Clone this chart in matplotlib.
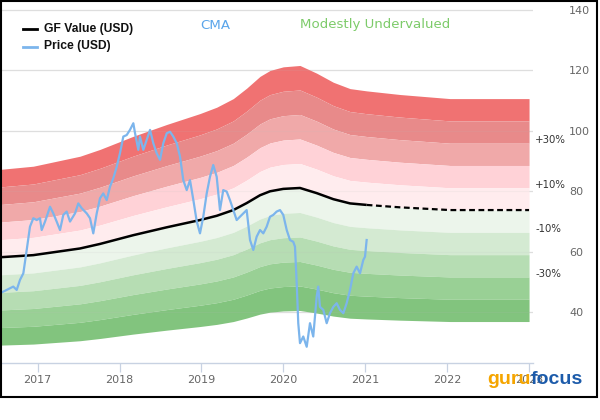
import matplotlib
matplotlib.use("Agg")
import matplotlib.pyplot as plt
from matplotlib.lines import Line2D
from matplotlib.patches import Rectangle
from matplotlib.transforms import blended_transform_factory
import numpy as np

# ---------------- data ----------------
gf_years = [2016.540, 2016.947, 2017.517, 2017.761, 2018.168, 2018.576, 2018.982,
            2019.186, 2019.389, 2019.552, 2019.715, 2019.837, 2019.999, 2020.203,
            2020.407, 2020.610, 2020.814, 2021.017, 2021.424, 2022.034, 2023.000]
gf_values = [58.1, 58.8, 61.0, 62.5, 65.4, 68.0, 70.4,
             71.8, 73.7, 76.0, 78.6, 79.9, 80.7, 81.0,
             79.3, 77.3, 75.9, 75.4, 74.6, 73.7, 73.7]
gf_projection_start = 2021.017

price_years = [2016.540, 2016.622, 2016.702, 2016.744, 2016.784, 2016.825, 2016.866, 2016.906,
               2016.947, 2016.988, 2017.028, 2017.049, 2017.090, 2017.151, 2017.191, 2017.232,
               2017.273, 2017.313, 2017.354, 2017.395, 2017.456, 2017.496, 2017.538, 2017.599,
               2017.639, 2017.679, 2017.721, 2017.761, 2017.801, 2017.843, 2017.883, 2017.923,
               2017.965, 2018.005, 2018.046, 2018.087, 2018.127, 2018.168, 2018.189, 2018.229,
               2018.249, 2018.290, 2018.331, 2018.372, 2018.412, 2018.453, 2018.494, 2018.534,
               2018.576, 2018.616, 2018.656, 2018.698, 2018.738, 2018.778, 2018.820, 2018.860,
               2018.901, 2018.942, 2018.982, 2019.022, 2019.064, 2019.104, 2019.144, 2019.186,
               2019.226, 2019.266, 2019.308, 2019.348, 2019.389, 2019.430, 2019.470, 2019.511,
               2019.552, 2019.593, 2019.633, 2019.674, 2019.715, 2019.755, 2019.796, 2019.837,
               2019.877, 2019.918, 2019.959, 2019.999, 2020.041, 2020.081, 2020.121, 2020.142,
               2020.163, 2020.182, 2020.203, 2020.243, 2020.285, 2020.325, 2020.365, 2020.407,
               2020.426, 2020.447, 2020.488, 2020.529, 2020.569, 2020.610, 2020.651, 2020.691,
               2020.732, 2020.773, 2020.814, 2020.854, 2020.895, 2020.936, 2020.976, 2020.997,
               2021.017]
price_values = [46.2, 47.3, 48.4, 47.3, 50.6, 52.8, 60.5, 68.2,
                71.0, 70.4, 71.0, 67.1, 69.9, 74.8, 72.6, 69.9,
                67.1, 72.1, 73.2, 69.9, 72.6, 75.9, 74.3, 72.6,
                71.0, 66.0, 72.6, 77.6, 79.2, 77.0, 81.4, 84.2,
                88.0, 92.5, 98.0, 98.5, 100.2, 102.4, 99.1, 93.6,
                98.0, 93.6, 96.9, 100.2, 95.8, 92.5, 90.3, 95.8,
                99.1, 99.6, 98.0, 95.8, 91.4, 83.6, 80.3, 83.6,
                77.0, 70.0, 66.0, 71.5, 79.2, 84.7, 88.6, 84.7,
                73.7, 80.3, 79.8, 77.0, 73.7, 70.4, 71.5, 72.6,
                73.7, 63.8, 60.5, 64.9, 67.1, 66.0, 68.2, 71.5,
                72.1, 73.2, 73.7, 72.1, 67.1, 63.8, 63.2, 61.6,
                49.5, 36.3, 29.7, 31.9, 28.5, 36.3, 31.9, 45.1,
                48.4, 41.7, 40.7, 36.3, 39.6, 41.7, 42.9, 40.7,
                39.6, 42.9, 47.3, 52.8, 55.0, 52.8, 57.2, 58.3,
                63.8]

band_steps = [0.5, 0.4, 0.3, 0.2, 0.1, 0.0, -0.1, -0.2, -0.3, -0.4, -0.5]
band_colors = ["#F07272", "#E88A8A", "#F0A9A9", "#FFD2D7", "#FFECEE",
               "#ECF5EB", "#D4EAD2", "#B6DDB3", "#99D095", "#82C47E"]
pct_labels = ["+30%", "+10%", "-10%", "-30%"]
pct_levels = [0.3, 0.1, -0.1, -0.3]

x_ticks = [2017, 2018, 2019, 2020, 2021, 2022, 2023]
y_ticks = [40, 60, 80, 100, 120, 140]

ticker_name = "CMA"
valuation_text = "Modestly Undervalued"

# ---------------- figure ----------------
fig = plt.figure(figsize=(6, 4.2), dpi=100)
ax = fig.add_axes([0.0, 0.1357, 0.8883, 0.8619])
ax.set_xlim(2016.54, 2023.048)
ax.set_ylim(23.14, 142.81)

gy = np.array(gf_years)
gv = np.array(gf_values)

for i, col in enumerate(band_colors):
    hi = band_steps[i]
    lo = band_steps[i + 1]
    ax.fill_between(gy, gv * (1 + lo), gv * (1 + hi), color=col, lw=0, zorder=1)

# grid
for v in y_ticks:
    ax.axhline(v, color="#E3E3E3", lw=0.9, zorder=0.5)
    ax.axhline(v, color="#BBBBBB", lw=0.8, alpha=0.12, zorder=2)

# GF value line
solid = gy <= gf_projection_start + 1e-9
dashed = gy >= gf_projection_start - 1e-9
ax.plot(gy[solid], gv[solid], color="black", lw=1.8, zorder=4, solid_capstyle="butt")
ax.plot(gy[dashed], gv[dashed], color="black", lw=1.6, zorder=4, linestyle=(0, (2.6, 1.6)))

# price line
ax.plot(price_years, price_values, color="#7CB5EC", lw=1.6, zorder=5)

# axes styling
for s in ["top", "left", "right"]:
    ax.spines[s].set_visible(False)
ax.spines["bottom"].set_color("#C8D2E2")
ax.spines["bottom"].set_linewidth(1.0)
ax.set_xticks(x_ticks)
ax.set_xticklabels([str(t) for t in x_ticks])
ax.tick_params(axis="x", direction="out", length=6.5, width=0.9, color="#C8D2E2",
               labelcolor="#666666", labelsize=8, pad=2)
ax.yaxis.tick_right()
ax.set_yticks(y_ticks)
ax.set_yticklabels([str(t) for t in y_ticks])
ax.tick_params(axis="y", length=0, labelcolor="#666666", labelsize=8, pad=26)
ax.set_facecolor("white")

# percentage labels
tr = blended_transform_factory(ax.transAxes, ax.transData)
gf_last = gf_values[-1]
for lab, p in zip(pct_labels, pct_levels):
    ax.text(1.004, gf_last * (1 + p) + 1.0, lab, transform=tr, ha="left", va="center",
            fontsize=7.3, color="#333333", clip_on=False)

# legend (manual)
ax.add_line(Line2D([23 / 533, 37 / 533], [(363 - 29) / 362] * 2, transform=ax.transAxes,
                   color="black", lw=2.0, zorder=6))
ax.add_line(Line2D([23 / 533, 37 / 533], [(363 - 47) / 362] * 2, transform=ax.transAxes,
                   color="#7CB5EC", lw=2.0, zorder=6))
ax.text(44 / 533, (363 - 29) / 362, "GF Value (USD)", transform=ax.transAxes, ha="left",
        va="center", fontsize=8.7, fontweight="bold", color="#111111",
        family="Liberation Sans", zorder=6)
ax.text(44 / 533, (363 - 46) / 362, "Price (USD)", transform=ax.transAxes, ha="left",
        va="center", fontsize=8.7, fontweight="bold", color="#111111",
        family="Liberation Sans", zorder=6)

# title texts
ax.text(200 / 533, (363 - 25) / 362, ticker_name, transform=ax.transAxes, ha="left",
        va="center", fontsize=9.6, color="#5AA5EA", zorder=6)
ax.text(300 / 533, (363 - 24) / 362, valuation_text, transform=ax.transAxes, ha="left",
        va="center", fontsize=9.6, color="#7DCB6A", zorder=6)

# logo
t1 = fig.text(487 / 600, 36.5 / 420, "guru", ha="left", va="baseline", fontsize=14,
              fontweight="bold", color="#F5A500", family="Liberation Sans", zorder=10)
fig.canvas.draw()
bb = t1.get_window_extent(renderer=fig.canvas.get_renderer())
fig.text(bb.x1 / fig.bbox.width, 36.5 / 420, "focus", ha="left", va="baseline", fontsize=14,
         fontweight="bold", color="#1C5BAA", family="Liberation Sans", zorder=10)

# outer border
fig.patches.append(Rectangle((1 / 600, 23 / 420), 596 / 600, 396 / 420, transform=fig.transFigure,
                             fill=False, edgecolor="black", lw=1.5, zorder=20))

fig.savefig("out.png", dpi=100)
